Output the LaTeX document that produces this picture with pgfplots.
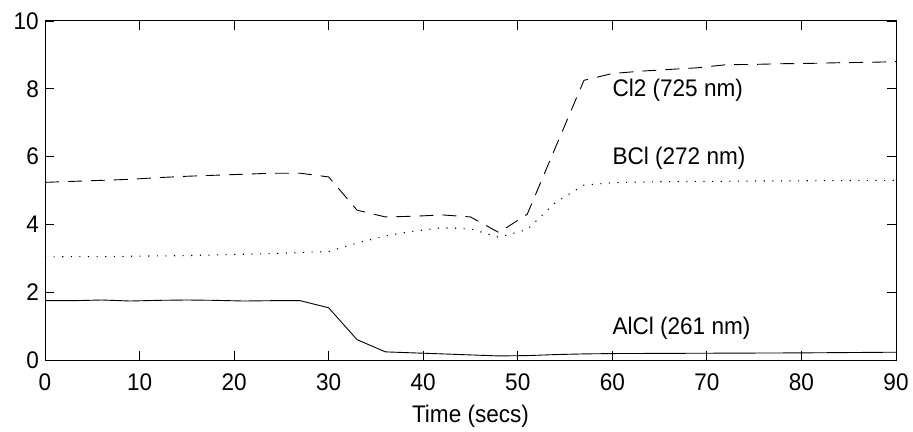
\documentclass[border=0pt]{standalone}
\usepackage{fontspec}
\setmainfont{Liberation Sans}[FakeStretch=0.94]
\usepackage{pgfplots}
\pgfplotsset{compat=1.18}
\begin{document}
\begin{tikzpicture}
\begin{axis}[
  scale only axis,
  width=851pt, height=339pt,
  xmin=0, xmax=90, ymin=0, ymax=10,
  xtick={0,10,...,90}, ytick={0,2,...,10},
  tick align=inside,
  major tick length=9pt,
  tick style={line width=0.8pt, black},
  axis line style={line width=1pt},
  font=\fontsize{24}{24}\selectfont,
  /pgf/number format/assume math mode=true,
  xticklabel style={inner sep=0pt, anchor=north},
  yticklabel style={inner sep=0pt, anchor=east},
  xticklabel shift=14pt,
  yticklabel shift=6pt,
  xlabel={Time (secs)},
  xlabel style={at={(axis description cs:0.5,0)}, anchor=base, yshift=-62pt, inner sep=0pt},
  every axis plot/.append style={line width=0.9pt, black},
  clip=false,
]
\addplot[no markers, dash pattern=on 14pt off 9pt] coordinates {
(0,5.24) (3,5.27) (6,5.30) (9,5.33) (12,5.38) (15,5.42) (18,5.45) (21,5.48)
(24,5.51) (27,5.51) (30,5.40) (33,4.42) (36,4.22) (39,4.24) (42,4.28) (45,4.22)
(48,3.76) (51,4.30) (54,6.28) (57,8.25) (60,8.45) (63,8.52) (66,8.57) (69,8.62)
(72,8.71) (75,8.72) (78,8.74) (81,8.75) (84,8.77) (87,8.78) (90,8.80)};
\addplot[no markers, line width=1.1pt, dash pattern=on 1.1pt off 7.5pt] coordinates {
(0,3.04) (3,3.05) (6,3.05) (9,3.06) (12,3.07) (15,3.08) (18,3.10) (21,3.12)
(24,3.14) (27,3.17) (30,3.20) (33,3.45) (36,3.66) (39,3.80) (42,3.90) (45,3.87)
(48,3.62) (51,3.85) (54,4.65) (57,5.16) (60,5.23) (63,5.25) (66,5.26) (69,5.27)
(72,5.27) (75,5.28) (78,5.28) (81,5.29) (84,5.29) (87,5.30) (90,5.30)};
\addplot[no markers, solid] coordinates {
(0,1.75) (3,1.75) (6,1.77) (9,1.74) (12,1.76) (15,1.77) (18,1.76) (21,1.74)
(24,1.75) (27,1.75) (30,1.54) (33,0.60) (36,0.24) (39,0.21) (42,0.18) (45,0.15)
(48,0.12) (51,0.13) (54,0.16) (57,0.18) (60,0.19) (70,0.20) (80,0.21) (90,0.23)};
\node[anchor=west, inner sep=0pt] at (axis cs:60,7.96) {Cl2 (725 nm)};
\node[anchor=west, inner sep=0pt] at (axis cs:60,5.95) {BCl (272 nm)};
\node[anchor=west, inner sep=0pt] at (axis cs:60,0.94) {AlCl (261 nm)};
\end{axis}
\pgfresetboundingbox
\path (current axis.south west) ++(-45pt,-71pt) coordinate (bbA);
\path (current axis.north east) ++(17pt,21pt) coordinate (bbB);
\useasboundingbox (bbA) rectangle (bbB);
\end{tikzpicture}
\end{document}
